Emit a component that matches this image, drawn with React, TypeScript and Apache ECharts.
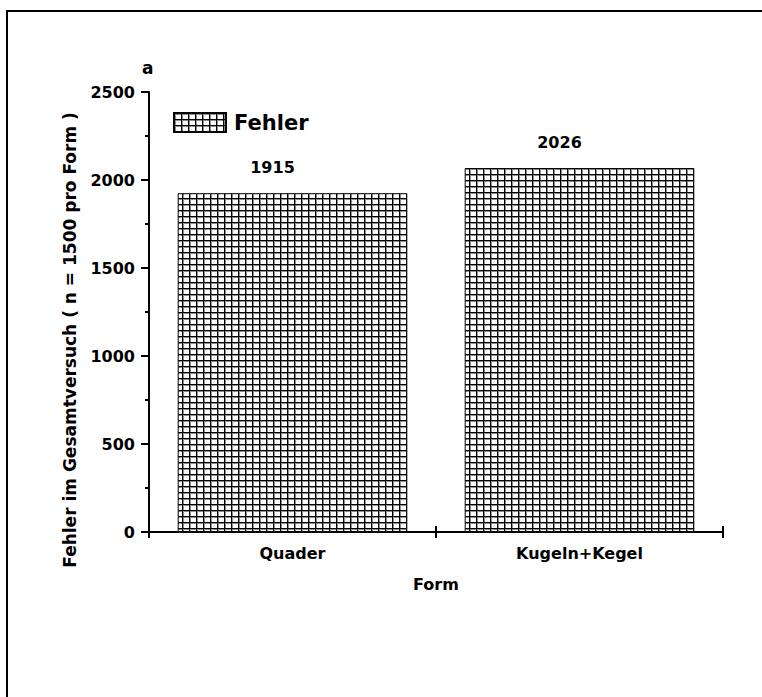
import React, { useEffect, useRef } from 'react';
import * as echarts from 'echarts';

const categories = ['Quader', 'Kugeln+Kegel'];
const barValues = [1925, 2068];
const valueLabels = ['1915', '2026'];
const seriesName = 'Fehler';
const yMin = 0;
const yMax = 2500;
const yInterval = 500;
const yTitle = 'Fehler im Gesamtversuch ( n = 1500 pro Form )';
const xTitle = 'Form';
const panelLetter = 'a';

const FONT = '"DejaVu Sans", Verdana, sans-serif';

function makePattern(): HTMLCanvasElement {
  const c = document.createElement('canvas');
  c.width = 7;
  c.height = 6;
  const ctx = c.getContext('2d')!;
  ctx.fillStyle = '#ffffff';
  ctx.fillRect(0, 0, 7, 6);
  ctx.fillStyle = '#8c8c8c';
  ctx.fillRect(1, 0, 1, 6);
  ctx.fillRect(0, 1, 7, 1);
  ctx.fillStyle = '#000000';
  ctx.fillRect(0, 0, 1, 6);
  ctx.fillRect(0, 0, 7, 1);
  return c;
}

export default function App() {
  const ref = useRef<HTMLDivElement>(null);
  useEffect(() => {
    document.body.style.margin = '0';
    document.body.style.overflow = 'hidden';
    const chart = echarts.init(ref.current!, undefined, { renderer: 'svg' });
    const pattern = makePattern();
    const axisLine = { show: true, lineStyle: { color: '#000', width: 2 } };
    chart.setOption({
      animation: false,
      backgroundColor: '#fff',
      textStyle: { fontFamily: FONT },
      grid: { left: 149, right: 39, top: 92, bottom: 165, containLabel: false },
      legend: {
        show: true,
        left: 173,
        top: 112,
        itemWidth: 52,
        itemHeight: 19,
        icon: 'rect',
        padding: 0,
        data: [seriesName],
        textStyle: {
          fontFamily: FONT,
          fontSize: 21,
          fontWeight: 'bold',
          color: '#000',
          padding: [0, 0, 0, 3],
        },
      },
      xAxis: [
        {
          type: 'category',
          data: categories,
          position: 'bottom',
          axisLine,
          axisTick: { show: true, length: 6, lineStyle: { color: '#000', width: 2 } },
          axisLabel: {
            margin: 13,
            fontFamily: FONT,
            fontSize: 16,
            fontWeight: 'bold',
            color: '#000',
          },
          name: xTitle,
          nameLocation: 'middle',
          nameGap: 44,
          nameTextStyle: { fontFamily: FONT, fontSize: 16, fontWeight: 'bold', color: '#000' },
        },
        {
          type: 'category',
          data: categories,
          position: 'bottom',
          axisLine: { show: false },
          axisTick: { show: true, inside: true, length: 6, lineStyle: { color: '#000', width: 2 } },
          axisLabel: { show: false },
        },
      ],
      yAxis: {
        type: 'value',
        min: yMin,
        max: yMax,
        interval: yInterval,
        axisLine,
        axisTick: { show: true, length: 8, lineStyle: { color: '#000', width: 2 } },
        minorTick: { show: true, splitNumber: 2, length: 4, lineStyle: { color: '#000', width: 2 } },
        splitLine: { show: false },
        axisLabel: {
          margin: 14,
          fontFamily: FONT,
          fontSize: 16,
          fontWeight: 'bold',
          color: '#000',
          formatter: (v: number) => String(v),
        },
      },
      series: [
        {
          name: seriesName,
          type: 'bar',
          xAxisIndex: 0,
          data: barValues,
          barWidth: '80%',
          itemStyle: {
            color: { image: pattern, repeat: 'repeat' },
            borderColor: '#000',
            borderWidth: 1,
          },
          label: {
            show: true,
            position: 'top',
            distance: 18,
            offset: [-20, 0],
            fontFamily: FONT,
            fontSize: 16,
            fontWeight: 'bold',
            color: '#000',
            formatter: (p: any) => valueLabels[p.dataIndex],
          },
        },
      ],
      graphic: [
        {
          type: 'text',
          x: 142,
          y: 68,
          style: {
            text: panelLetter,
            fontFamily: FONT,
            fontSize: 17,
            fontWeight: 'bold',
            fill: '#000',
            verticalAlign: 'middle',
          },
        },
        {
          type: 'text',
          x: 70,
          y: 340,
          rotation: Math.PI / 2,
          style: {
            text: yTitle,
            fontFamily: FONT,
            fontSize: 17,
            fontWeight: 'bold',
            fill: '#000',
            align: 'center',
            verticalAlign: 'middle',
          },
        },
      ],
    });
    return () => chart.dispose();
  }, []);
  return (
    <div style={{ position: 'relative', width: 762, height: 697, overflow: 'hidden' }}>
      <div ref={ref} style={{ position: 'absolute', left: 0, top: 0, width: 762, height: 697 }} />
      <div
        style={{
          position: 'absolute',
          left: 6,
          top: 10,
          width: 900,
          height: 900,
          borderTop: '2px solid #000',
          borderLeft: '2px solid #000',
          pointerEvents: 'none',
        }}
      />
    </div>
  );
}
